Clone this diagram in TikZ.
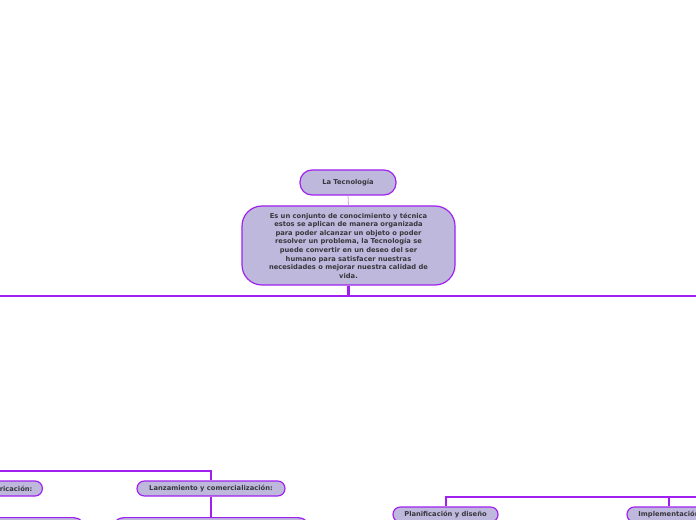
\documentclass[tikz,border=0pt]{standalone}
\usepackage{fontspec}
\setmainfont{DejaVu Sans}
\usetikzlibrary{positioning}
\definecolor{nodefill}{RGB}{190,184,220}
\definecolor{nodeline}{RGB}{160,32,240}
\definecolor{thinline}{RGB}{220,150,245}
\definecolor{txt}{RGB}{55,55,60}
\tikzset{
  box/.style={draw=nodeline, fill=nodefill, line width=0.9pt, inner sep=0pt,
    font=\bfseries\fontsize{5.05}{6.43}\selectfont, text=txt, align=center},
  mainconn/.style={draw=nodeline, line width=2.2pt},
  subconn/.style={draw=nodeline, line width=1.5pt},
  lightconn/.style={draw=thinline, line width=0.6pt}
}
\begin{document}
\begin{tikzpicture}[x=0.75pt,y=-0.75pt]
\useasboundingbox (0,0) rectangle (696,520);
\clip (0,0) rectangle (696,520);
% nodes
\node[box, rounded corners=9pt, minimum width=72pt, minimum height=18.75pt] (top) at (348,182.5) {La Tecnología};
\node[box, rounded corners=15pt, minimum width=159.75pt, minimum height=59.25pt] (desc) at (348.5,245.5)
 {Es un conjunto de conocimiento y técnica\\estos se aplican de manera organizada\\para poder alcanzar un objeto o poder\\resolver un problema, la Tecnología se\\puede convertir en un deseo del ser\\humano para satisfacer nuestras\\necesidades o mejorar nuestra calidad de\\vida.};
\node[box, rounded corners=5.5pt, minimum width=111pt, minimum height=11.25pt] (lanz) at (211,488.5) {Lanzamiento y comercialización:};
\node[box, rounded corners=5.5pt, minimum width=75pt, minimum height=11.25pt, anchor=east, text width=60pt, align=right] (fab) at (43,488.5) {Fabricación:};
\node[box, rounded corners=5.5pt, minimum width=78.75pt, minimum height=11.25pt] (plan) at (445.5,514.5) {Planificación y diseño};
\node[box, rounded corners=5.5pt, minimum width=63pt, minimum height=11.25pt] (imp) at (669,514.5) {Implementación};
\node[box, rounded corners=9pt, minimum width=112pt, minimum height=45pt, anchor=north east] (fabc) at (86,517) {};
\node[box, rounded corners=9pt, minimum width=148.5pt, minimum height=45pt, anchor=north] (lanzc) at (211,517) {};
% coordinates
\coordinate (mL) at (0,296);
\coordinate (mR) at (696,296);
\coordinate (bl) at (0,471);
\coordinate (rR) at (696,497);
% connectors
\draw[lightconn] (top.south) -- (desc.north);
\draw[mainconn] (desc.south) -- (desc.south |- mL);
\draw[mainconn] (mL) -- (mR);
\draw[subconn] (bl) -| (lanz.north);
\draw[subconn] (lanz.south) -- (lanzc.north);
\draw[subconn] (plan.north) |- (rR);
\draw[subconn] (imp.north) -- (imp.north |- rR);
\end{tikzpicture}
\end{document}
